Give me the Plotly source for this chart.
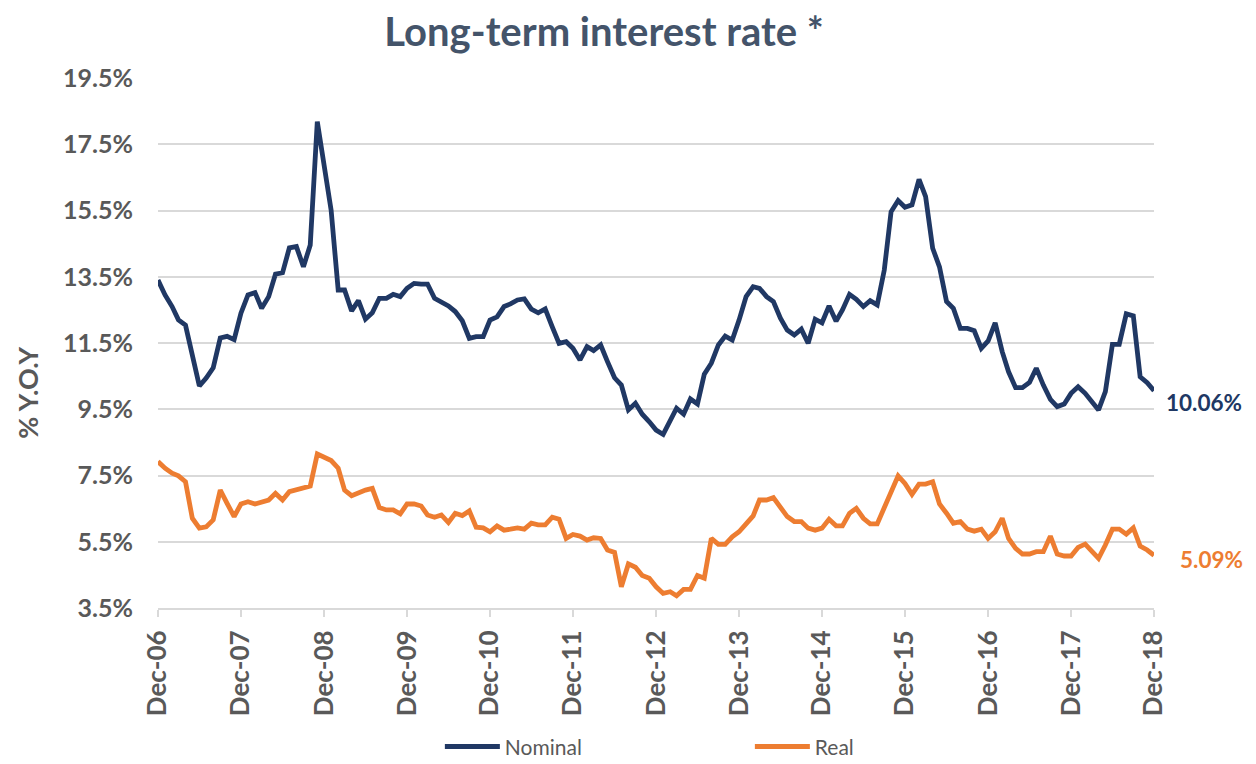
import pandas as pd
import plotly.graph_objects as go

# ---- data (monthly, Dec-06 .. Dec-18) ----
nominal = [
    13.40, 12.95, 12.60, 12.20, 12.04, 11.20, 10.20, 10.44, 10.75, 11.65, 11.70, 11.60,
    12.40, 12.95, 13.02, 12.55, 12.90, 13.58, 13.62, 14.37, 14.41, 13.80, 14.46, 18.18,
    16.82, 15.50, 13.10, 13.10, 12.47, 12.78, 12.22, 12.41, 12.85, 12.85, 12.97, 12.90,
    13.15, 13.30, 13.28, 13.28, 12.85, 12.73, 12.62, 12.45, 12.17, 11.64, 11.69, 11.69,
    12.19, 12.29, 12.60, 12.68, 12.80, 12.83, 12.52, 12.41, 12.53, 11.99, 11.49, 11.54,
    11.34, 10.99, 11.39, 11.27, 11.44, 10.94, 10.45, 10.23, 9.48, 9.68, 9.35, 9.12,
    8.87, 8.74, 9.12, 9.53, 9.35, 9.81, 9.66, 10.56, 10.89, 11.44, 11.71, 11.59,
    12.19, 12.90, 13.20, 13.15, 12.90, 12.75, 12.25, 11.89, 11.74, 11.92, 11.49, 12.22,
    12.11, 12.62, 12.16, 12.50, 12.97, 12.82, 12.60, 12.78, 12.65, 13.70, 15.46, 15.80,
    15.60, 15.67, 16.44, 15.92, 14.36, 13.80, 12.75, 12.55, 11.94, 11.94, 11.87, 11.34,
    11.56, 12.11, 11.24, 10.63, 10.15, 10.15, 10.31, 10.74, 10.23, 9.80, 9.58, 9.66,
    9.98, 10.18, 9.98, 9.73, 9.48, 10.03, 11.46, 11.46, 12.38, 12.32, 10.48, 10.30,
    10.06,
]

real = [
    7.92, 7.72, 7.57, 7.49, 7.31, 6.21, 5.91, 5.95, 6.16, 7.06, 6.66, 6.26,
    6.64, 6.71, 6.64, 6.69, 6.76, 6.96, 6.76, 7.01, 7.06, 7.11, 7.18, 8.15,
    8.05, 7.95, 7.72, 7.06, 6.89, 6.99, 7.06, 7.11, 6.53, 6.46, 6.46, 6.34,
    6.64, 6.64, 6.58, 6.31, 6.24, 6.31, 6.08, 6.36, 6.29, 6.43, 5.94, 5.92,
    5.80, 5.98, 5.85, 5.88, 5.92, 5.88, 6.06, 6.01, 6.01, 6.24, 6.18, 5.60,
    5.72, 5.67, 5.55, 5.62, 5.60, 5.25, 5.18, 4.14, 4.83, 4.73, 4.48, 4.40,
    4.14, 3.94, 3.99, 3.87, 4.06, 4.06, 4.48, 4.40, 5.60, 5.42, 5.42, 5.65,
    5.80, 6.04, 6.28, 6.76, 6.76, 6.83, 6.54, 6.26, 6.11, 6.11, 5.91, 5.85,
    5.91, 6.18, 5.98, 5.98, 6.36, 6.51, 6.21, 6.04, 6.04, 6.56, 6.97, 7.49,
    7.26, 6.93, 7.24, 7.24, 7.31, 6.64, 6.36, 6.06, 6.11, 5.88, 5.82, 5.88,
    5.60, 5.80, 6.21, 5.60, 5.30, 5.13, 5.13, 5.20, 5.20, 5.67, 5.13, 5.07,
    5.07, 5.33, 5.43, 5.23, 5.00, 5.40, 5.88, 5.88, 5.73, 5.92, 5.37, 5.25,
    5.09,
]

dates = pd.date_range("2006-12-01", periods=len(nominal), freq="MS")
tick_dates = pd.date_range("2006-12-01", "2018-12-01", freq="12MS")
tick_labels = [d.strftime("Dec-%y") for d in tick_dates]
y_ticks = [3.5, 5.5, 7.5, 9.5, 11.5, 13.5, 15.5, 17.5, 19.5]
y_labels = [f"{v:.1f}%" for v in y_ticks]

NAVY = "#203864"
ORANGE = "#ED7D31"
GREY = "#595959"
GRID = "#D9D9D9"
FONT = "Lato"

fig = go.Figure()
fig.add_trace(go.Scatter(x=dates, y=nominal, mode="lines", name="Nominal",
                         line=dict(color=NAVY, width=4.8)))
fig.add_trace(go.Scatter(x=dates, y=real, mode="lines", name="Real",
                         line=dict(color=ORANGE, width=4.8)))

fig.add_annotation(x=dates[-1], y=nominal[-1], xref="x", yref="y",
                   text=f"<b>{nominal[-1]:.2f}%</b>", showarrow=False,
                   xanchor="left", yanchor="middle", xshift=10, yshift=-12,
                   font=dict(family=FONT, size=22.5, color=NAVY))
fig.add_annotation(x=dates[-1], y=real[-1], xref="x", yref="y",
                   text=f"<b>{real[-1]:.2f}%</b>", showarrow=False,
                   xanchor="left", yanchor="middle", xshift=24, yshift=-4,
                   font=dict(family=FONT, size=22.5, color=ORANGE))
fig.add_annotation(x=-0.131, y=0.405, xref="paper", yref="paper",
                   text="<b>% Y.O.Y</b>",
                   textangle=-90, showarrow=False,
                   xanchor="center", yanchor="middle",
                   font=dict(family=FONT, size=27, color=GREY))

fig.update_layout(
    width=1248, height=756,
    paper_bgcolor="white", plot_bgcolor="white",
    margin=dict(l=150, r=102, t=70, b=156, autoexpand=False),
    title=dict(text="<b>Long-term interest rate *</b>", x=0.4776, xanchor="center",
               y=0.968, yanchor="middle",
               font=dict(family=FONT, size=40, color="#44546A")),
    xaxis=dict(
        automargin=False,
        range=[dates[0], dates[-1]],
        tickvals=list(tick_dates), ticktext=tick_labels, tickangle=-90,
        tickfont=dict(family=FONT, size=26, color=GREY, weight="bold"),
        showgrid=False, showline=True, linecolor=GRID, linewidth=2,
        ticks="outside", ticklen=7, tickcolor=GRID, tickwidth=1.5,
        ticklabelstandoff=3, zeroline=False,
    ),
    yaxis=dict(
        automargin=False,
        range=[3.5, 19.5], tickvals=y_ticks, ticktext=y_labels,
        tickfont=dict(family=FONT, size=25, color=GREY, weight="bold"),
        showgrid=True, gridcolor=GRID, gridwidth=1.5,
        zeroline=False, showline=False, ticks="", ticklabelstandoff=24,
    ),
    legend=dict(orientation="h", x=0.283, xanchor="left", y=-0.262, yanchor="middle",
                font=dict(family=FONT, size=21, color=GREY),
                entrywidth=240, entrywidthmode="pixels", itemwidth=55),
    showlegend=True,
)

fig.write_html("out.html")
